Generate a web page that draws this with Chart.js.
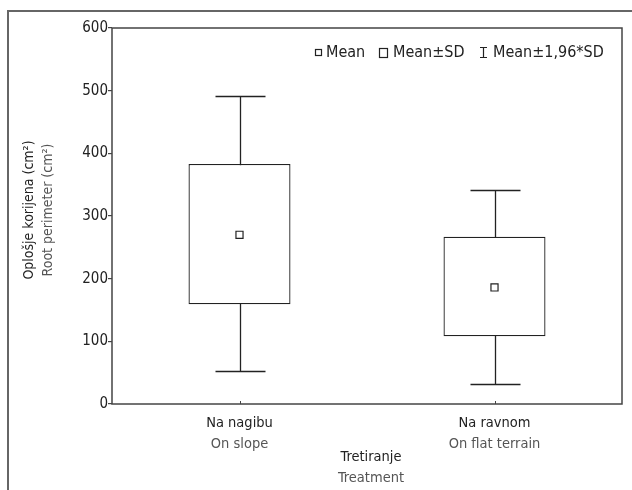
<!DOCTYPE html>
<html>
<head>
<meta charset="utf-8">
<script src="https://cdn.jsdelivr.net/npm/chart.js@4"></script>
<style>
  html, body { margin: 0; padding: 0; background: #fff; }
  canvas { display: block; }
</style>
</head>
<body>
<canvas id="c" width="632" height="490"></canvas>
<script>
// ---- data ----
const categories = [['Na nagibu', 'On slope'], ['Na ravnom', 'On flat terrain']];
const means = [270, 186];
const sdLow = [159, 108];
const sdHigh = [383, 267];
const ciLow = [53, 32];
const ciHigh = [492, 341];
const yTicks = [0, 100, 200, 300, 400, 500, 600];
const legendLabels = ['Mean', 'Mean\u00B1SD', 'Mean\u00B11,96*SD'];
const yTitle = ['Oplošje korijena (cm²)', 'Root perimeter (cm²)'];
const xTitle = ['Tretiranje', 'Treatment'];

const FONT = "'DejaVu Sans Condensed', 'Liberation Sans Narrow', sans-serif";
const DARK = '#222';
const LIGHT = '#555';

const decorPlugin = {
  id: 'decor',
  beforeDraw(chart) {
    const ctx = chart.ctx;
    ctx.save();
    ctx.strokeStyle = '#666';
    ctx.lineWidth = 2;
    ctx.beginPath();
    ctx.moveTo(8, 490);
    ctx.lineTo(8, 11);
    ctx.lineTo(632, 11);
    ctx.stroke();
    ctx.restore();
  },
  beforeDatasetsDraw(chart) {
    const ctx = chart.ctx;
    const xs = chart.scales.x, ys = chart.scales.y;
    ctx.save();
    ctx.strokeStyle = DARK;
    ctx.lineWidth = 1.3;
    const capHalf = 25;
    categories.forEach((c, i) => {
      const x = Math.round(xs.getPixelForValue(i)) + 0.5;
      const yt = Math.round(ys.getPixelForValue(ciHigh[i])) + 0.5;
      const yb = Math.round(ys.getPixelForValue(ciLow[i])) + 0.5;
      ctx.beginPath();
      ctx.moveTo(x, yt); ctx.lineTo(x, yb);
      ctx.moveTo(x - capHalf, yt); ctx.lineTo(x + capHalf, yt);
      ctx.moveTo(x - capHalf, yb); ctx.lineTo(x + capHalf, yb);
      ctx.stroke();
    });
    ctx.restore();
  },
  afterDraw(chart) {
    const ctx = chart.ctx;
    const a = chart.chartArea;
    const xs = chart.scales.x;
    ctx.save();
    // plot frame
    ctx.strokeStyle = '#444';
    ctx.lineWidth = 1.5;
    ctx.strokeRect(a.left, a.top, a.right - a.left, a.bottom - a.top);
    // inward x ticks
    ctx.lineWidth = 1;
    categories.forEach((c, i) => {
      const x = Math.round(xs.getPixelForValue(i)) + 0.5;
      ctx.beginPath();
      ctx.moveTo(x, a.bottom); ctx.lineTo(x, a.bottom - 3);
      ctx.stroke();
    });
    // x category labels
    ctx.textAlign = 'center';
    ctx.textBaseline = 'middle';
    categories.forEach((c, i) => {
      const x = xs.getPixelForValue(i);
      ctx.font = '14.5px ' + FONT;
      ctx.fillStyle = DARK;
      ctx.fillText(c[0], x, a.bottom + 19);
      ctx.fillStyle = LIGHT;
      ctx.fillText(c[1], x, a.bottom + 40);
    });
    // x title
    const xc = (a.left + a.right) / 2 + 4;
    ctx.fillStyle = DARK;
    ctx.fillText(xTitle[0], xc, a.bottom + 53);
    ctx.fillStyle = LIGHT;
    ctx.fillText(xTitle[1], xc, a.bottom + 74);
    // y title
    const yc = (a.top + a.bottom) / 2 - 6;
    ctx.save();
    ctx.translate(29, yc);
    ctx.rotate(-Math.PI / 2);
    ctx.font = '14px ' + FONT;
    ctx.fillStyle = DARK;
    ctx.fillText(yTitle[0], 0, 0);
    ctx.restore();
    ctx.save();
    ctx.translate(48, yc);
    ctx.rotate(-Math.PI / 2);
    ctx.font = '14px ' + FONT;
    ctx.fillStyle = LIGHT;
    ctx.fillText(yTitle[1], 0, 0);
    ctx.restore();
    // legend
    const ly = 53;
    ctx.font = '16px ' + FONT;
    ctx.textAlign = 'left';
    ctx.fillStyle = DARK;
    ctx.strokeStyle = DARK;
    ctx.lineWidth = 1.2;
    let lx = 315;
    ctx.strokeRect(lx + 0.5, ly - 3.5, 6, 6);
    ctx.fillText(legendLabels[0], lx + 11, ly);
    lx = 379;
    ctx.strokeRect(lx + 0.5, ly - 4.5, 8, 9);
    ctx.fillText(legendLabels[1], lx + 14, ly);
    lx = 480;
    ctx.beginPath();
    ctx.moveTo(lx, ly - 5.5); ctx.lineTo(lx + 7, ly - 5.5);
    ctx.moveTo(lx + 3.5, ly - 5.5); ctx.lineTo(lx + 3.5, ly + 4.5);
    ctx.moveTo(lx, ly + 4.5); ctx.lineTo(lx + 7, ly + 4.5);
    ctx.stroke();
    ctx.fillText(legendLabels[2], lx + 13, ly);
    ctx.restore();
  }
};

new Chart(document.getElementById('c'), {
  type: 'bar',
  data: {
    labels: categories.map(c => c[0]),
    datasets: [
      {
        type: 'line',
        label: legendLabels[0],
        data: means,
        showLine: false,
        pointStyle: 'rect',
        pointRadius: 5,
        pointHoverRadius: 5,
        pointBackgroundColor: '#fff',
        pointBorderColor: DARK,
        pointBorderWidth: 1.2,
        order: 0
      },
      {
        label: legendLabels[1],
        data: sdLow.map((l, i) => [l, sdHigh[i]]),
        backgroundColor: '#fff',
        borderColor: DARK,
        borderWidth: 1.3,
        borderSkipped: false,
        barPercentage: 0.4,
        categoryPercentage: 1.0,
        order: 1
      }
    ]
  },
  options: {
    responsive: false,
    animation: false,
    events: [],
    layout: { padding: { top: 28, right: 10, left: 0, bottom: 0 } },
    plugins: { legend: { display: false }, tooltip: { enabled: false } },
    scales: {
      x: {
        offset: true,
        grid: { drawOnChartArea: false, drawTicks: false },
        border: { display: false },
        ticks: { display: false },
        afterFit(s) { s.height = 86; }
      },
      y: {
        min: 0, max: 600,
        afterBuildTicks(s) { s.ticks = yTicks.map(v => ({ value: v })); },
        grid: { drawOnChartArea: false, tickLength: 4, color: '#444', lineWidth: 1.2 },
        border: { display: false },
        ticks: { color: DARK, font: { family: FONT, size: 15 }, padding: 0 },
        afterFit(s) { s.width = 112; }
      }
    }
  },
  plugins: [decorPlugin]
});
</script>
</body>
</html>
